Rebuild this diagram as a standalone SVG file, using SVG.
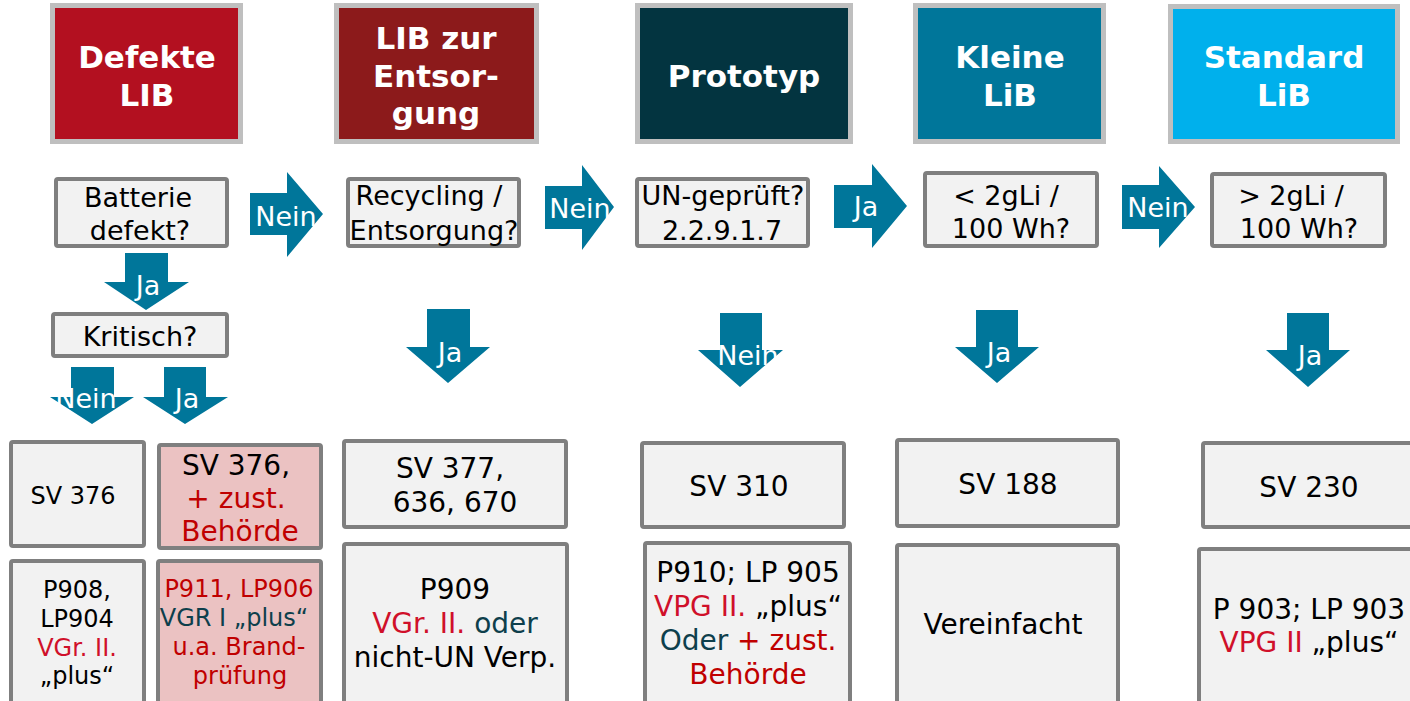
<svg xmlns="http://www.w3.org/2000/svg" width="1410" height="701" viewBox="0 0 1410 701">
<style>
.hdr{stroke:#bfbfbf;stroke-width:5}
.ht{font-family:"DejaVu Sans",Verdana,sans-serif;font-weight:bold;font-size:31px;fill:#ffffff;text-anchor:middle}
.box{fill:#f2f2f2;stroke:#7f7f7f;stroke-width:4}
.pink{fill:#ebc2c2;stroke:#7f7f7f;stroke-width:4}
.q{font-family:"DejaVu Sans",Verdana,sans-serif;font-size:27px;fill:#000;text-anchor:middle}
.t28{font-family:"DejaVu Sans",Verdana,sans-serif;font-size:28px;fill:#000;text-anchor:middle}
.t24{font-family:"DejaVu Sans",Verdana,sans-serif;font-size:24px;fill:#000;text-anchor:middle}
.arr{fill:#00769a}
.al{font-family:"DejaVu Sans",Verdana,sans-serif;font-size:27px;fill:#ffffff;text-anchor:middle}
.red{fill:#c00000}
.red2{fill:#d0102a}
.teal{fill:#0e3f4c}
</style>
<rect width="1410" height="701" fill="#ffffff"/>

<g id="hdr-defekte">
<rect class="hdr" x="52.5" y="5.5" width="188" height="136" fill="#b31020"/>
<text class="ht" x="147" y="68">Defekte</text>
<text class="ht" x="147" y="106">LIB</text>
</g>
<g id="hdr-entsorgung">
<rect class="hdr" x="336.5" y="5.5" width="200" height="136" fill="#8c1a1b"/>
<text class="ht" x="436" y="49">LIB zur</text>
<text class="ht" x="436" y="87">Entsor-</text>
<text class="ht" x="436" y="124">gung</text>
</g>
<g id="hdr-prototyp">
<rect class="hdr" x="637.5" y="5.5" width="213" height="136" fill="#033440"/>
<text class="ht" x="744" y="87">Prototyp</text>
</g>
<g id="hdr-kleine">
<rect class="hdr" x="915.5" y="5.5" width="188" height="136" fill="#00769a"/>
<text class="ht" x="1010" y="68">Kleine</text>
<text class="ht" x="1010" y="106">LiB</text>
</g>
<g id="hdr-standard">
<rect class="hdr" x="1170.5" y="6.5" width="227" height="135" fill="#00b0ec"/>
<text class="ht" x="1284" y="68">Standard</text>
<text class="ht" x="1284" y="106">LiB</text>
</g>

<g id="q-batterie">
<rect class="box" x="56" y="179" width="171" height="67" rx="2"/>
<text class="q" x="138" y="207">Batterie</text>
<text class="q" x="140" y="240">defekt?</text>
</g>
<g id="q-recycling">
<rect class="box" x="348" y="179" width="171" height="67" rx="2"/>
<text class="q" x="429" y="205">Recycling /</text>
<text class="q" x="434" y="240">Entsorgung?</text>
</g>
<g id="q-un">
<rect class="box" x="637" y="179" width="171" height="67" rx="2"/>
<text class="q" x="723" y="205">UN-geprüft?</text>
<text class="q" x="722" y="240">2.2.9.1.7</text>
</g>
<g id="q-kleiner">
<rect class="box" x="925" y="173" width="172" height="73" rx="2"/>
<text class="q" x="1006" y="205">&lt; 2gLi /</text>
<text class="q" x="1011" y="238">100 Wh?</text>
</g>
<g id="q-groesser">
<rect class="box" x="1212" y="174" width="173" height="72" rx="2"/>
<text class="q" x="1291" y="205">&gt; 2gLi /</text>
<text class="q" x="1299" y="238">100 Wh?</text>
</g>
<g id="q-kritisch">
<rect class="box" x="53" y="314" width="174" height="42" rx="2"/>
<text class="q" x="140" y="346">Kritisch?</text>
</g>

<g id="sv376">
<rect class="box" x="11" y="442" width="133" height="104" rx="2"/>
<text class="t24" x="73" y="504">SV 376</text>
</g>
<g id="sv376-behoerde">
<rect class="pink" x="159" y="445" width="162" height="103" rx="2"/>
<text class="t28" x="236" y="475">SV 376,</text>
<text class="t28 red" x="236" y="508">+ zust.</text>
<text class="t28 red" x="240" y="541">Behörde</text>
</g>
<g id="p908">
<rect class="box" x="11" y="561" width="133" height="150" rx="2"/>
<text class="t24" x="77" y="598">P908,</text>
<text class="t24" x="77" y="627">LP904</text>
<text class="t24 red2" x="77" y="656">VGr. II.</text>
<text class="t24" x="77" y="684">„plus“</text>
</g>
<g id="p911">
<rect class="pink" x="158" y="561" width="163" height="150" rx="2"/>
<text class="t24 red" x="239" y="597">P911, LP906</text>
<text class="t24 teal" x="234" y="626">VGR I „plus“</text>
<text class="t24 red" x="239" y="655">u.a. Brand-</text>
<text class="t24 red" x="240" y="684">prüfung</text>
</g>
<g id="sv377">
<rect class="box" x="344" y="441" width="222" height="86" rx="2"/>
<text class="t28" x="450" y="478">SV 377,</text>
<text class="t28" x="455" y="512">636, 670</text>
</g>
<g id="p909">
<rect class="box" x="344" y="544" width="223" height="170" rx="2"/>
<text class="t28" x="455" y="599">P909</text>
<text class="t28" x="455" y="633"><tspan class="red2">VGr. II.</tspan> <tspan class="teal">oder</tspan></text>
<text class="t28" x="455" y="667">nicht-UN Verp.</text>
</g>
<g id="sv310">
<rect class="box" x="642" y="443" width="202" height="84" rx="2"/>
<text class="t28" x="739" y="496">SV 310</text>
</g>
<g id="p910">
<rect class="box" x="645" y="543" width="205" height="170" rx="2"/>
<text class="t28" x="748" y="582">P910; LP 905</text>
<text class="t28" x="748" y="616"><tspan class="red2">VPG II.</tspan> „plus“</text>
<text class="t28" x="748" y="650"><tspan class="teal">Oder</tspan> <tspan class="red">+ zust.</tspan></text>
<text class="t28 red" x="748" y="684">Behörde</text>
</g>
<g id="sv188">
<rect class="box" x="897" y="440" width="221" height="86" rx="2"/>
<text class="t28" x="1008" y="494">SV 188</text>
</g>
<g id="vereinfacht">
<rect class="box" x="897" y="545" width="221" height="170" rx="2"/>
<text class="t28" x="1003" y="634">Vereinfacht</text>
</g>
<g id="sv230">
<rect class="box" x="1203" y="443" width="215" height="84" rx="2"/>
<text class="t28" x="1309" y="497">SV 230</text>
</g>
<g id="p903">
<rect class="box" x="1199" y="549" width="220" height="165" rx="2"/>
<text class="t28" x="1309" y="619">P 903; LP 903</text>
<text class="t28" x="1309" y="652"><tspan class="red2">VPG II</tspan> „plus“</text>
</g>

<g id="connectors">
<polygon class="arr" points="250,193 287,193 287,172 323,214 287,257 287,235 250,235"/>
<text class="al" x="286" y="226">Nein</text>
<polygon class="arr" points="545,186 582,186 582,165 614,207 582,250 582,229 545,229"/>
<text class="al" x="580" y="218">Nein</text>
<polygon class="arr" points="834,185 872,185 872,164 907,206 872,248 872,228 834,228"/>
<text class="al" x="866" y="216">Ja</text>
<polygon class="arr" points="1122,185 1159,185 1159,166 1195,207 1159,248 1159,229 1122,229"/>
<text class="al" x="1158" y="217">Nein</text>

<polygon class="arr" points="125,253 168,253 168,282 189,282 146,310 104,282 125,282"/>
<text class="al" x="148" y="295">Ja</text>
<polygon class="arr" points="71,367 114,367 114,397 134,397 92,424 50,397 71,397"/>
<text class="al" x="86" y="408">Nein</text>
<polygon class="arr" points="164,367 206,367 206,397 228,397 185,424 143,397 164,397"/>
<text class="al" x="187" y="408">Ja</text>
<polygon class="arr" points="427,309 470,309 470,347 490,347 448,383 406,347 427,347"/>
<text class="al" x="450" y="362">Ja</text>
<polygon class="arr" points="720,313 762,313 762,350 783,350 740,387 698,350 720,350"/>
<text class="al" x="748" y="365">Nein</text>
<polygon class="arr" points="976,310 1018,310 1018,347 1039,347 997,383 955,347 976,347"/>
<text class="al" x="999" y="362">Ja</text>
<polygon class="arr" points="1287,313 1329,313 1329,350 1350,350 1308,387 1266,350 1287,350"/>
<text class="al" x="1310" y="365">Ja</text>
</g>
</svg>
